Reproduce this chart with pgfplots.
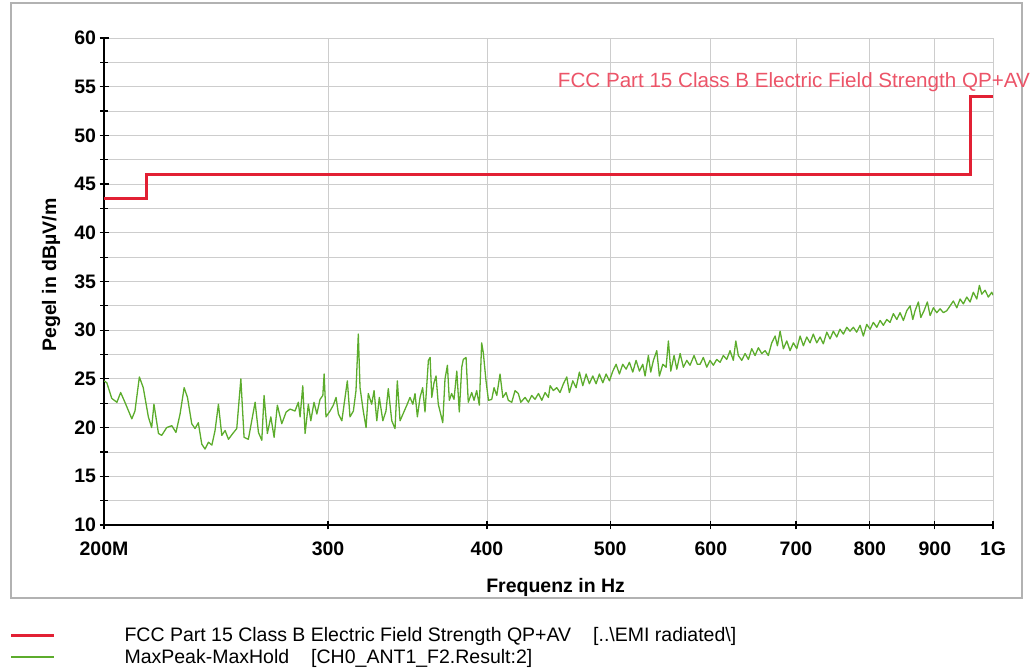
\documentclass[border=0pt]{standalone}
\usepackage{pgfplots}
\pgfplotsset{compat=1.18}
\usepackage{fontspec}
\setmainfont{Liberation Sans}
\definecolor{limred}{RGB}{226,32,52}
\definecolor{lblred}{RGB}{236,84,104}
\definecolor{trgreen}{RGB}{92,172,44}
\definecolor{gridgray}{RGB}{205,205,205}
\definecolor{framegray}{RGB}{178,178,178}
\begin{document}
\begin{tikzpicture}
\useasboundingbox (0bp,0bp) rectangle (1035bp,672bp);
\draw[framegray, line width=1.5bp] (11bp,74bp) rectangle (1022bp,669bp);
\begin{axis}[
  at={(104bp,147bp)}, anchor=south west,
  scale only axis, width=889bp, height=487bp,
  xmode=log, xmin=200, xmax=1000, ymin=10, ymax=60,
  axis x line=bottom, axis y line=left,
  axis line style={-, line width=1.8bp, black},
  xtick={200,300,400,500,600,700,800,900,1000},
  xticklabels={200M,300,400,500,600,700,800,900,1G},
  xminorticks=false,
  ytick={10,15,20,25,30,35,40,45,50,55,60},
  yticklabels={10,15,20,25,30,35,40,45,50,55,60},
  minor ytick={12.5,17.5,22.5,27.5,32.5,37.5,42.5,47.5,52.5,57.5},
  xmajorgrids, ymajorgrids, yminorgrids,
  grid style={gridgray, line width=0.8bp},
  major grid style={gridgray, line width=0.8bp},
  minor grid style={gridgray, line width=0.8bp},
  tick align=center, major tick length=9bp, minor tick length=8bp,
  tick style={black, line width=1.2bp},
  ticklabel style={font=\fontsize{19.5bp}{22bp}\selectfont\bfseries},
  xticklabel style={yshift=-9bp},
  xlabel={Frequenz in Hz},
  ylabel={Pegel in dBµV/m},
  label style={font=\fontsize{19.5bp}{22bp}\selectfont\bfseries},
  xlabel style={at={(axis description cs:0.508,-0.128)}, anchor=center},
  ylabel style={at={(axis description cs:-0.0596,0.513)}, anchor=center},
  clip mode=individual,
  legend style={at={(axis description cs:-0.1065,-0.204)}, anchor=north west,
    draw=none, fill=none, inner sep=0pt, row sep=0pt,
    font=\fontsize{19.5bp}{22bp}\selectfont,
    nodes={inner sep=3bp}},
  legend cell align=left,
  legend image code/.code={\draw[#1, line cap=butt] (0bp,0bp) -- (43bp,0bp);},
]
\addplot[limred, line width=3bp, line join=miter] coordinates {
(200,43.5) (216,43.5) (216,46) (960,46) (960,54) (1000,54)
};
\addlegendentry{\hspace*{66bp}FCC Part 15 Class B Electric Field Strength QP+AV\hspace{22bp}[..\textbackslash EMI radiated\textbackslash]}
\addplot[trgreen, line width=1.3bp, line join=round] coordinates {
(200,24.8) (201.0,24.6) (202.8,23.0) (204.7,22.6) (206.1,23.6) (207.7,22.6)
(210.3,20.9) (211.5,21.7) (213.2,25.2) (214.7,24.1) (216.7,21.1) (218.0,20.0)
(218.9,22.4) (220.7,19.4) (222.0,19.2) (224.0,20.0) (226.1,20.2) (227.8,19.5)
(229.5,21.4) (231.2,24.1) (232.6,23.1) (234.4,20.4) (235.8,19.9) (237.2,20.5)
(238.7,18.3) (240.1,17.8) (241.6,18.5) (243.1,18.2) (244.5,19.7) (246.0,22.4)
(247.5,19.2) (249.0,19.7) (250.5,18.8) (252.5,19.4) (254.3,19.9) (256.2,25.0)
(257.7,19.0) (259.7,18.8) (261.3,20.7) (262.9,22.6) (264.5,19.5) (266.1,18.7)
(267.2,23.3) (268.8,19.4) (270.5,21.1) (272.1,19.0) (273.7,22.3) (275.9,20.4)
(278.1,21.6) (280.1,21.9) (282.6,21.7) (284.3,22.6) (285.2,21.1) (286.6,24.3)
(287.8,19.4) (289.5,22.4) (290.8,20.7) (292.5,22.6) (294.0,21.4) (295.7,22.9)
(297.2,23.3) (297.9,25.5) (298.9,21.1) (301.1,21.7) (302.9,22.3) (304.4,23.1)
(305.7,21.4) (307.6,20.7) (309.4,23.1) (310.7,24.8) (312.2,21.1) (314.1,21.7)
(315.6,23.8) (316.9,29.6) (317.9,24.1) (319.8,21.7) (321.4,20.0) (322.7,23.5)
(324.7,22.4) (326.1,23.8) (327.7,20.7) (329.2,23.1) (331.3,20.7) (333.2,21.7)
(334.6,24.0) (336.7,20.7) (338.7,19.9) (340.1,24.8) (341.8,20.7) (343.9,21.5)
(346.0,22.3) (348.0,23.1) (349.8,22.4) (351.2,23.5) (352.7,21.1) (354.4,23.1)
(356.1,24.1) (357.6,21.6) (359.8,26.9) (360.9,27.2) (362.0,23.1) (363.5,24.6)
(364.8,25.3) (366.3,22.4) (367.9,21.4) (369.3,20.5) (370.8,25.0) (372.4,26.4)
(373.7,22.8) (375.3,23.5) (376.9,22.9) (378.8,25.8) (380.5,21.6) (382.2,26.2)
(383.3,27.0) (385.2,27.2) (386.8,22.6) (389.2,23.6) (390.8,22.8) (392.7,23.8)
(394.6,22.3) (396.3,28.7) (397.4,27.7) (399.4,24.8) (401.1,22.8) (403.5,22.9)
(405.2,24.1) (407.2,23.3) (409.6,25.5) (411.7,23.1) (414.1,23.6) (415.8,22.8)
(418.4,22.6) (420.9,23.8) (423.4,23.5) (425.3,22.6) (428.6,23.1) (431.2,22.6)
(433.8,23.3) (436.4,22.9) (439.1,23.5) (441.8,22.8) (444.4,23.6) (447.1,23.1)
(448.5,24.3) (451.1,23.8) (453.9,24.1) (456.6,23.6) (459.4,24.5) (462.2,25.2)
(464.4,23.6) (467.3,24.8) (470.1,24.1) (472.9,25.7) (475.8,24.3) (478.7,25.5)
(481.5,24.5) (484.5,25.3) (487.4,24.5) (490.3,25.5) (493.4,24.6) (496.3,25.5)
(499.3,24.8) (502.4,25.8) (505.4,26.5) (508.4,25.5) (511.5,26.5) (514.6,26.0)
(517.7,26.7) (520.9,25.7) (524.0,26.9) (527.2,25.8) (530.4,26.5) (532.6,25.3)
(535.8,27.4) (538.1,25.7) (540.7,26.9) (544.0,27.9) (546.6,25.3) (550.0,26.5)
(553.3,26.2) (555.6,28.9) (558.0,25.8) (561.3,27.4) (564.1,26.0) (567.5,27.6)
(570.9,26.2) (574.4,26.9) (577.8,26.4) (582.0,27.4) (585.5,26.5) (588.4,26.5)
(591.9,27.2) (595.6,26.2) (599.1,26.9) (602.7,26.4) (606.4,27.0) (610.1,26.7)
(613.7,27.4) (617.5,27.0) (621.2,27.9) (624.9,26.9) (627.7,28.9) (630.6,27.4)
(634.5,26.9) (638.3,27.6) (642.2,27.0) (646.1,28.1) (650.0,27.4) (653.9,28.2)
(657.9,27.6) (661.9,27.9) (665.8,27.4) (669.9,28.7) (674.0,29.4) (676.8,28.4)
(680.1,29.9) (684.2,28.1) (688.4,28.9) (692.5,27.9) (696.7,28.7) (701.0,28.1)
(705.2,29.4) (709.4,28.4) (713.8,29.3) (718.0,28.7) (722.3,29.6) (726.8,28.7)
(731.2,29.3) (735.5,28.6) (740.1,29.8) (744.5,29.1) (749.0,29.9) (753.6,29.3)
(758.1,30.1) (762.7,29.6) (767.4,30.3) (772.0,29.9) (776.6,30.3) (781.4,29.8)
(786.1,30.5) (790.8,29.4) (795.7,30.6) (800.4,30.1) (805.2,30.8) (810.2,30.3)
(815.1,31.0) (819.9,30.5) (825.0,31.1) (829.9,30.8) (834.9,31.7) (840.1,31.1)
(845.1,31.8) (850.2,31.0) (855.4,32.0) (860.6,32.5) (864.8,31.1) (868.4,32.0)
(873.6,32.9) (877.4,31.3) (882.6,32.0) (887.9,32.9) (892.3,31.5) (897.6,32.3)
(903.2,31.8) (908.6,32.2) (914.0,31.8) (919.7,32.0) (925.2,32.5) (930.7,33.0)
(936.5,32.3) (942.1,33.2) (947.7,32.7) (953.6,33.4) (959.3,32.9) (965.0,33.9)
(971.0,33.2) (975.6,34.6) (979.8,33.7) (985.7,34.1) (991.6,33.4) (997.7,33.9)
(1000,33.6)
};
\addlegendentry{\hspace*{66bp}MaxPeak-MaxHold\hspace{22bp}[CH0\_ANT1\_F2.Result:2]}
\node[anchor=east, text=lblred, font=\fontsize{20.6bp}{22bp}\selectfont, inner sep=0pt]
  at (rel axis cs:1,0.9097) [xshift=37bp] {FCC Part 15 Class B Electric Field Strength QP+AV};
\end{axis}
\end{tikzpicture}
\end{document}
